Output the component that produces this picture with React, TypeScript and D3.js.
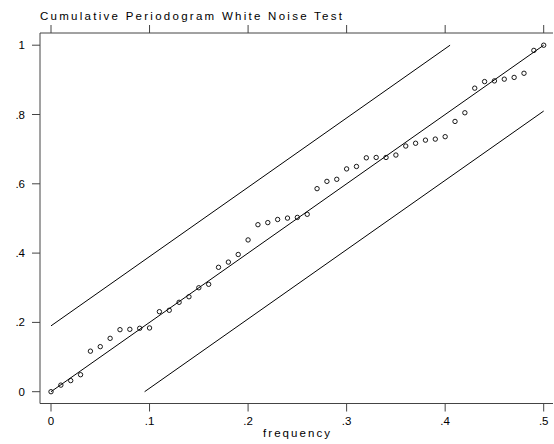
import React from "react";
import * as d3 from "d3";

const freqs: number[] = [
  0, 0.01, 0.02, 0.03, 0.04, 0.05, 0.06, 0.07, 0.08, 0.09,
  0.1, 0.11, 0.12, 0.13, 0.14, 0.15, 0.16, 0.17, 0.18, 0.19,
  0.2, 0.21, 0.22, 0.23, 0.24, 0.25, 0.26, 0.27, 0.28, 0.29,
  0.3, 0.31, 0.32, 0.33, 0.34, 0.35, 0.36, 0.37, 0.38, 0.39,
  0.4, 0.41, 0.42, 0.43, 0.44, 0.45, 0.46, 0.47, 0.48, 0.49, 0.5,
];
const cumPgram: number[] = [
  0, 0.019, 0.032, 0.049, 0.117, 0.13, 0.154, 0.179, 0.18, 0.183,
  0.184, 0.231, 0.235, 0.258, 0.274, 0.3, 0.31, 0.359, 0.374, 0.396,
  0.438, 0.482, 0.488, 0.497, 0.501, 0.503, 0.512, 0.586, 0.607, 0.613,
  0.643, 0.65, 0.675, 0.676, 0.676, 0.683, 0.709, 0.717, 0.726, 0.729,
  0.736, 0.78, 0.805, 0.876, 0.895, 0.897, 0.902, 0.907, 0.919, 0.985, 1.0,
];
const xTicks: number[] = [0, 0.1, 0.2, 0.3, 0.4, 0.5];
const xTickLabels: string[] = ["0", ".1", ".2", ".3", ".4", ".5"];
const yTicks: number[] = [0, 0.2, 0.4, 0.6, 0.8, 1];
const yTickLabels: string[] = ["0", ".2", ".4", ".6", ".8", "1"];
const band = 0.19;
const title = "Cumulative Periodogram White Noise Test";
const xTitle = "frequency";

export default function App() {
  const W = 554, H = 444;
  const left = 40, right = 553, top = 33, bottom = 403.5;
  const x = d3.scaleLinear().domain([0, 0.5]).range([51, 543.7]);
  const y = d3.scaleLinear().domain([0, 1]).range([391.7, 45.2]);
  const line = d3.line<[number, number]>().x(d => x(d[0])).y(d => y(d[1]));
  const diag: [number, number][] = [[0, 0], [0.5, 1]];
  const upper: [number, number][] = [[0, band], [(1 - band) / 2, 1]];
  const lower: [number, number][] = [[band / 2, 0], [0.5, 1 - band]];
  const axisColor = "#444";
  const font = "'Liberation Sans', Arial, Helvetica, sans-serif";
  return (
    <svg width={W} height={H} style={{ position: "absolute", left: 0, top: 0, background: "#fff" }}>
      <rect x={0} y={0} width={W} height={H} fill="#fff" />
      <text x={40} y={20} fontFamily={font} fontSize={11.5} textLength={302} lengthAdjust="spacing" fill="#000">{title}</text>
      {/* axes */}
      <line x1={left} x2={right} y1={top} y2={top} stroke={axisColor} strokeWidth={1} />
      <line x1={left} x2={right} y1={bottom} y2={bottom} stroke={axisColor} strokeWidth={1} />
      <line x1={left} x2={left} y1={top} y2={bottom} stroke={axisColor} strokeWidth={1} />
      {xTicks.map((t, i) => (
        <g key={"xt" + i}>
          <line x1={x(t)} x2={x(t)} y1={top} y2={top - 8} stroke={axisColor} />
          <line x1={x(t)} x2={x(t)} y1={bottom} y2={bottom + 8} stroke={axisColor} />
          <text x={x(t)} y={425} textAnchor="middle" fontFamily={font} fontSize={11.5} fill="#000">{xTickLabels[i]}</text>
        </g>
      ))}
      {yTicks.map((t, i) => (
        <g key={"yt" + i}>
          <line x1={left - 8} x2={left} y1={y(t)} y2={y(t)} stroke={axisColor} />
          <text x={25} y={y(t) + 4} textAnchor="end" fontFamily={font} fontSize={11.5} fill="#000">{yTickLabels[i]}</text>
        </g>
      ))}
      <text x={(left + right) / 2} y={437} textAnchor="middle" fontFamily={font} fontSize={11.5} textLength={67} lengthAdjust="spacing" fill="#000">{xTitle}</text>
      <path d={line(diag) || ""} stroke="#000" strokeWidth={1} fill="none" />
      <path d={line(upper) || ""} stroke="#000" strokeWidth={1} fill="none" />
      <path d={line(lower) || ""} stroke="#000" strokeWidth={1} fill="none" />
      {freqs.map((f, i) => (
        <circle key={"p" + i} cx={x(f)} cy={y(cumPgram[i])} r={2.2} fill="none" stroke="#000" strokeWidth={0.9} />
      ))}
    </svg>
  );
}
